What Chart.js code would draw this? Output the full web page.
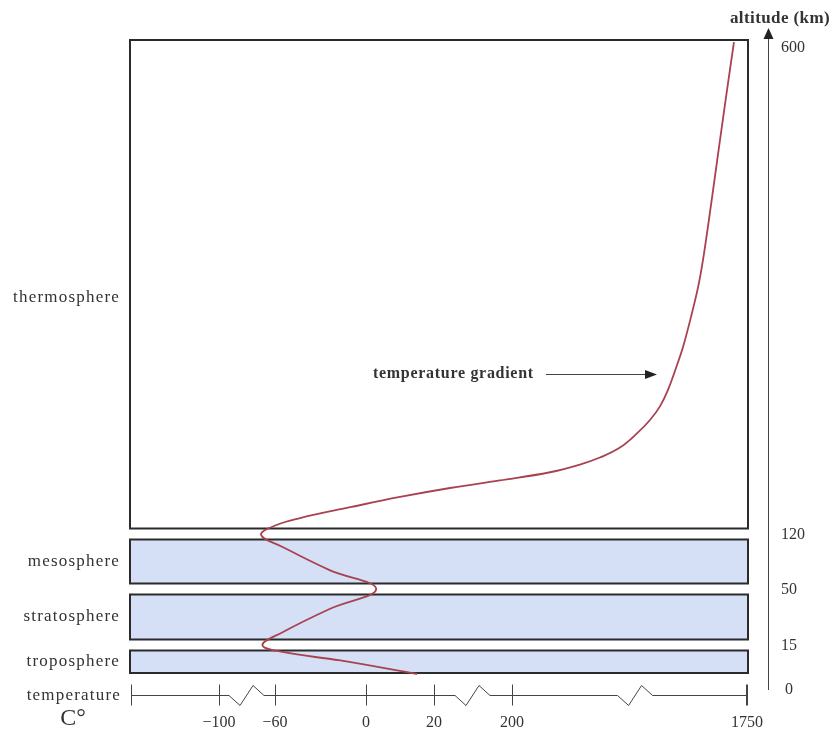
<!DOCTYPE html>
<html>
<head>
<meta charset="utf-8">
<script src="https://cdn.jsdelivr.net/npm/chart.js@4.4.1/dist/chart.umd.min.js"></script>
<style>
  html, body { margin: 0; padding: 0; background: #fff; }
</style>
</head>
<body>
<canvas id="myChart" width="834" height="734"></canvas>
<script>
// layers of the atmosphere, bottom to top, and their boundaries (km)
const layerNames = ['troposphere', 'stratosphere', 'mesosphere', 'thermosphere'];
const altitudeTicks = [0, 15, 50, 120, 600];

// temperature axis (deg C), it is broken between some ticks
const temperatureTicks = [-100, -60, 0, 20, 200, 1750];
const temperatureLabels = ['\u2212100', '\u221260', '0', '20', '200', '1750'];
const axisBreaks = [-80, 110, 1015];

// temperature profile
const profileTemp = [15, -17, -55, -69, -55, -24, 3, -24, -55, -70,
    -59, -43.5, -10.5, 10, 57, 172, 451, 648, 780, 912, 1024, 1110, 1176, 1229,
    1288, 1328, 1387, 1433, 1473, 1526, 1572, 1618, 1664];
const profileAlt = [0, 7, 11.4, 15, 23, 37.5, 50, 74, 103.5, 119,
    128.7, 135.5, 146, 156, 164.7, 172, 180, 187.5, 194.3, 204, 217.7, 230.8, 244, 260,
    284, 301.7, 334.7, 364, 399, 454, 503, 551, 598];

const serif = '"Liberation Serif", "DejaVu Serif", serif';
const inkColor = '#2b2b2b';

// a linear scale that is stretched differently between each pair of breaks
class PiecewiseScale extends Chart.LinearScale {
    determineDataLimits() {
        const b = this.options.breaks;
        this.min = b[0];
        this.max = b[b.length - 1];
    }
    buildTicks() {
        return this.options.tickValues.map((v) => ({ value: v }));
    }
    getPixelForValue(value) {
        const b = this.options.breaks;
        const w = this.options.weights;
        const total = w.reduce((s, v) => s + v, 0);
        let i = 0;
        while (i < b.length - 2 && value > b[i + 1]) i++;
        let acc = 0;
        for (let k = 0; k < i; k++) acc += w[k];
        const dec = (acc + w[i] * (value - b[i]) / (b[i + 1] - b[i])) / total;
        return this.getPixelForDecimal(dec);
    }
    getValueForPixel(pixel) {
        const b = this.options.breaks;
        const w = this.options.weights;
        const total = w.reduce((s, v) => s + v, 0);
        const dec = this.getDecimalForPixel(pixel) * total;
        let acc = 0;
        for (let i = 0; i < w.length; i++) {
            if (dec <= acc + w[i] || i === w.length - 1) {
                return b[i] + (dec - acc) / w[i] * (b[i + 1] - b[i]);
            }
            acc += w[i];
        }
    }
}
PiecewiseScale.id = 'piecewise';
Chart.register(PiecewiseScale);

const diagramPlugin = {
    id: 'diagram',
    beforeDatasetsDraw(chart) {
        const { ctx, chartArea: a, scales: { y } } = chart;
        ctx.save();
        for (let i = 0; i < layerNames.length; i++) {
            const last = i === layerNames.length - 1;
            const top = y.getPixelForValue(altitudeTicks[i + 1]) + (last ? 0 : 5.5);
            const bottom = y.getPixelForValue(altitudeTicks[i]) - (i === 0 ? 1 : 5.5);
            ctx.fillStyle = last ? '#ffffff' : '#d5e0f7';
            ctx.fillRect(a.left - 1, top, a.right - a.left + 2, bottom - top);
            ctx.strokeStyle = inkColor;
            ctx.lineWidth = 2;
            ctx.strokeRect(a.left - 1, top, a.right - a.left + 2, bottom - top);

            // layer name to the left of its box
            ctx.fillStyle = '#333';
            ctx.font = '17px ' + serif;
            ctx.letterSpacing = '1.2px';
            ctx.textAlign = 'right';
            ctx.textBaseline = 'middle';
            ctx.fillText(layerNames[i], a.left - 11, (top + bottom) / 2 + (last ? 13 : 0));
        }
        ctx.restore();
    },
    afterDraw(chart) {
        const { ctx, chartArea: a, scales: { x, y } } = chart;
        ctx.save();
        ctx.strokeStyle = '#444';
        ctx.fillStyle = '#333';
        ctx.lineWidth = 1;

        // altitude axis with arrow
        const ax = a.right + 21;
        ctx.beginPath();
        ctx.moveTo(ax + 0.5, a.top - 4);
        ctx.lineTo(ax + 0.5, a.bottom + 16);
        ctx.stroke();
        ctx.fillStyle = '#222';
        ctx.beginPath();
        ctx.moveTo(ax + 0.5, a.top - 12);
        ctx.lineTo(ax - 4.5, a.top - 1);
        ctx.lineTo(ax + 5.5, a.top - 1);
        ctx.closePath();
        ctx.fill();

        ctx.fillStyle = '#333';
        ctx.font = '16px ' + serif;
        ctx.textAlign = 'left';
        ctx.textBaseline = 'middle';
        altitudeTicks.forEach((v, i) => {
            const p = y.getPixelForValue(v);
            let yy = p + 1;
            if (i === 0) yy = p + 16;
            if (i === altitudeTicks.length - 1) yy = p + 8;
            ctx.fillText(String(v), i === 0 ? ax + 17 : ax + 13, yy);
        });
        ctx.font = 'bold 17px ' + serif;
        ctx.letterSpacing = '0.4px';
        ctx.textAlign = 'center';
        ctx.fillText('altitude (km)', ax + 12, 19);
        ctx.letterSpacing = '0px';

        // temperature axis, with zigzag breaks
        const ty = a.bottom + 21.5;
        const breakPx = axisBreaks.map((v) => x.getPixelForValue(v));
        ctx.beginPath();
        let start = a.left;
        breakPx.forEach((bp) => {
            ctx.moveTo(start, ty);
            ctx.lineTo(bp - 18, ty);
            ctx.lineTo(bp - 7, ty + 10);
            ctx.lineTo(bp + 6, ty - 10);
            ctx.lineTo(bp + 17, ty);
            start = bp + 17;
        });
        ctx.moveTo(start, ty);
        ctx.lineTo(a.right, ty);
        [a.left + 0.5, a.right - 0.5].concat(temperatureTicks.map((v) => Math.round(x.getPixelForValue(v)) + 0.5))
            .forEach((px) => {
                ctx.moveTo(px, ty - 11);
                ctx.lineTo(px, ty + 10);
            });
        ctx.stroke();

        ctx.font = '16px ' + serif;
        ctx.textAlign = 'center';
        temperatureTicks.forEach((v, i) => {
            ctx.fillText(temperatureLabels[i], x.getPixelForValue(v), a.bottom + 49);
        });
        ctx.textAlign = 'right';
        ctx.font = '17px ' + serif;
        ctx.letterSpacing = '1.2px';
        ctx.fillText('temperature', a.left - 10, ty);
        ctx.letterSpacing = '0px';
        ctx.textAlign = 'center';
        ctx.font = '24px ' + serif;
        ctx.fillText('C\u00b0', 73, a.bottom + 45);

        // annotation
        ctx.font = 'bold 16px ' + serif;
        ctx.letterSpacing = '0.7px';
        ctx.textAlign = 'left';
        ctx.fillText('temperature gradient', 373, 374);
        ctx.letterSpacing = '0px';
        ctx.beginPath();
        ctx.moveTo(546, 374.5);
        ctx.lineTo(646, 374.5);
        ctx.stroke();
        ctx.fillStyle = '#222';
        ctx.beginPath();
        ctx.moveTo(657, 374.5);
        ctx.lineTo(645, 370);
        ctx.lineTo(645, 379);
        ctx.closePath();
        ctx.fill();
        ctx.restore();
    }
};

const ctx = document.getElementById('myChart').getContext('2d');
const myChart = new Chart(ctx, {
    type: 'line',
    data: {
        datasets: [{
            label: 'temperature gradient',
            data: profileAlt.map((alt, i) => ({ x: profileTemp[i], y: alt })),
            borderColor: '#a8424f',
            borderWidth: 1.8,
            pointRadius: 0,
            fill: false,
            tension: 0.4,
            clip: false
        }]
    },
    options: {
        indexAxis: 'y',
        responsive: false,
        animation: false,
        layout: { padding: { left: 131, right: 87, top: 40, bottom: 60 } },
        plugins: { legend: { display: false }, tooltip: { enabled: false } },
        elements: { line: { capBezierPoints: false } },
        scales: {
            x: {
                type: 'piecewise',
                display: false,
                breaks: [-160, -100, -60, 0, 20, 200, 1750],
                weights: [88, 56, 91, 68, 78, 235],
                tickValues: temperatureTicks
            },
            y: {
                type: 'piecewise',
                display: false,
                breaks: altitudeTicks,
                weights: [29, 56, 55, 494],
                tickValues: altitudeTicks
            }
        }
    },
    plugins: [diagramPlugin]
});
</script>
</body>
</html>
